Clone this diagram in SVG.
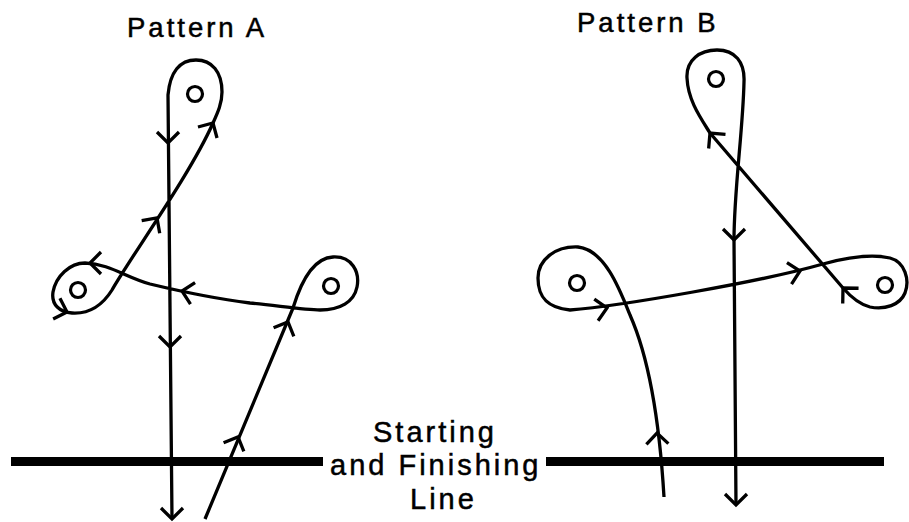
<svg xmlns="http://www.w3.org/2000/svg" xmlns:xlink="http://www.w3.org/1999/xlink" width="909" height="522" viewBox="0 0 909 522">
<style>
.ln{fill:none;stroke:#000;stroke-width:3.3;stroke-linejoin:round;stroke-linecap:butt}
.chev{fill:none;stroke:#000;stroke-width:3.3;stroke-linejoin:miter;stroke-linecap:butt}
.pylon{fill:#fff;stroke:#000;stroke-width:3.2}
.bar{fill:#000}
.t{font-family:"Liberation Sans",Arial,sans-serif;fill:#000;stroke:#000;stroke-width:0.5;letter-spacing:3px}
.title{font-size:27.5px}
.lab{font-size:29px}
</style>
<defs>
<path id="chev" class="chev" d="M-11,-11 L0,0 L-11,11"/>
</defs>
<rect width="909" height="522" fill="#fff"/>
<g id="start-line">
<rect class="bar" x="11" y="457" width="312" height="9"/>
<rect class="bar" x="546" y="457" width="338" height="9"/>
</g>
<g id="labels">
<text class="t title" x="127" y="37">Pattern A</text>
<text class="t title" x="577" y="32">Pattern B</text>
<text class="t lab" x="373" y="442">Starting</text>
<text class="t lab" x="330" y="475">and Finishing</text>
<text class="t lab" x="410" y="509">Line</text>
</g>
<g id="connectors">
<path id="route-a" class="ln" d="M205,519 L293,308 C300,285 312,258 333,257 C352,256 360,272 357,287 C354,302 340,310 320,310 C305,310 280,306 250,303 C210,298 175,290 150,284 C125,277 110,264 85,263 C70,263 56,276 53,292 C51,305 60,312 72,313 C88,314 102,306 112,290 C130,258 190,175 213,123 C218,112 222,103 222,92 C222,72 212,60 196,60 C180,60 170,72 168,95 L172,519"/>
<path id="route-b" class="ln" d="M664,497 C660,430 650,360 630,315 C620,290 605,250 578,247 C555,246 538,260 538,278 C538,298 548,308 570,310 C620,306 760,282 823,264 C845,258 872,254 890,258 C905,262 910,280 905,293 C900,305 885,310 870,307 C858,304 850,296 843,288 L710,133 C700,117 688,100 687,78 C686,60 700,50 717,50 C735,50 745,62 744,82 C743,130 734,190 734,240 L736,505"/>
<g id="arrows-a">
<use xlink:href="#chev" transform="translate(238,437) rotate(-67)"/>
<use xlink:href="#chev" transform="translate(288,322) rotate(-67)"/>
<use xlink:href="#chev" transform="translate(182,291) rotate(192)"/>
<use xlink:href="#chev" transform="translate(90,263) rotate(180)"/>
<use xlink:href="#chev" transform="translate(67,312) rotate(18)"/>
<use xlink:href="#chev" transform="translate(157,218) rotate(-55)"/>
<use xlink:href="#chev" transform="translate(213,123) rotate(-60)"/>
<use xlink:href="#chev" transform="translate(168,143) rotate(90)"/>
<use xlink:href="#chev" transform="translate(170,347) rotate(90)"/>
<use xlink:href="#chev" transform="translate(172,519) rotate(90)"/>
</g>
<g id="arrows-b">
<use xlink:href="#chev" transform="translate(657,433) rotate(-92)"/>
<use xlink:href="#chev" transform="translate(607,308) rotate(-10)"/>
<use xlink:href="#chev" transform="translate(800,271) rotate(-12)"/>
<use xlink:href="#chev" transform="translate(843,288) rotate(226)"/>
<use xlink:href="#chev" transform="translate(710,133) rotate(230)"/>
<use xlink:href="#chev" transform="translate(734,240) rotate(90)"/>
<use xlink:href="#chev" transform="translate(736,505) rotate(90)"/>
</g>
</g>
<g id="pylon-a-top"><circle class="pylon" cx="195" cy="94" r="7.5"/></g>
<g id="pylon-a-left"><circle class="pylon" cx="78" cy="290" r="7.5"/></g>
<g id="pylon-a-right"><circle class="pylon" cx="331" cy="286" r="7.5"/></g>
<g id="pylon-b-top"><circle class="pylon" cx="716" cy="79" r="7.5"/></g>
<g id="pylon-b-left"><circle class="pylon" cx="577" cy="283" r="7.5"/></g>
<g id="pylon-b-right"><circle class="pylon" cx="885" cy="285" r="7.5"/></g>
</svg>
